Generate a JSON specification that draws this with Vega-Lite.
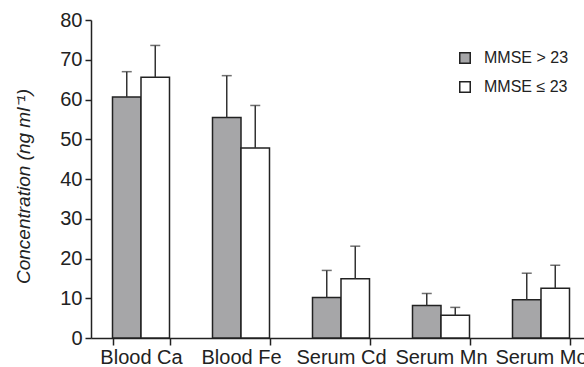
{
  "$schema": "https://vega.github.io/schema/vega-lite/v6.json",
  "width": 500,
  "height": 318,
  "autosize": {"type": "none"},
  "padding": {"left": 91, "top": 20, "right": 0, "bottom": 29},
  "config": {"view": {"stroke": null}, "font": "Liberation Sans"},
  "data": {
    "values": [
      {"analyte": "Blood Ca", "group": "MMSE > 23", "mean": 60.6, "upper": 67.0},
      {"analyte": "Blood Ca", "group": "MMSE ≤ 23", "mean": 65.6, "upper": 73.6},
      {"analyte": "Blood Fe", "group": "MMSE > 23", "mean": 55.5, "upper": 66.0},
      {"analyte": "Blood Fe", "group": "MMSE ≤ 23", "mean": 47.8, "upper": 58.5},
      {"analyte": "Serum Cd", "group": "MMSE > 23", "mean": 10.2, "upper": 17.0},
      {"analyte": "Serum Cd", "group": "MMSE ≤ 23", "mean": 14.9, "upper": 23.1},
      {"analyte": "Serum Mn", "group": "MMSE > 23", "mean": 8.2, "upper": 11.2},
      {"analyte": "Serum Mn", "group": "MMSE ≤ 23", "mean": 5.7, "upper": 7.7},
      {"analyte": "Serum Mo", "group": "MMSE > 23", "mean": 9.6, "upper": 16.3},
      {"analyte": "Serum Mo", "group": "MMSE ≤ 23", "mean": 12.5, "upper": 18.3}
    ]
  },
  "resolve": {"axis": {"y": "independent"}},
  "encoding": {
    "x": {
      "field": "analyte", "type": "nominal",
      "sort": ["Blood Ca", "Blood Fe", "Serum Cd", "Serum Mn", "Serum Mo"],
      "scale": {"paddingInner": 0.43, "paddingOuter": 0.215},
      "axis": {
        "title": null, "labelAngle": 0, "tickBand": "extent",
        "labelFontSize": 20, "labelColor": "#222", "domainColor": "#222",
        "tickColor": "#222", "tickSize": 7, "labelPadding": 2,
        "domainWidth": 1.5, "tickWidth": 1.5, "labelOverlap": false
      }
    },
    "xOffset": {"field": "group", "type": "nominal", "sort": ["MMSE > 23", "MMSE ≤ 23"]}
  },
  "layer": [
    {
      "mark": {"type": "bar", "stroke": "#222", "strokeWidth": 1.5},
      "encoding": {
        "y": {
          "field": "mean", "type": "quantitative",
          "scale": {"domain": [0, 80], "nice": false},
          "axis": {
            "title": "Concentration (ng ml⁻¹)", "titleFontStyle": "italic",
            "titleFontWeight": "normal", "titleFontSize": 19, "titleColor": "#222",
            "titlePadding": 26, "titleY": 166, "values": [0, 10, 20, 30, 40, 50, 60, 70, 80],
            "labelOverlap": false, "tickCount": 9,
            "grid": false, "labelFontSize": 20, "labelColor": "#222",
            "domainColor": "#222", "tickColor": "#222", "tickSize": 6,
            "labelPadding": 3, "domainWidth": 1.5, "tickWidth": 1.5
          }
        },
        "fill": {
          "field": "group", "type": "nominal",
          "scale": {"domain": ["MMSE > 23", "MMSE ≤ 23"], "range": ["#a6a6a8", "#ffffff"]},
          "legend": {
            "title": null, "orient": "none", "legendX": 366, "legendY": 30,
            "symbolType": "square", "symbolSize": 110, "symbolStrokeColor": "#222",
            "symbolStrokeWidth": 1.5, "labelFontSize": 16, "labelColor": "#222",
            "labelOffset": 11, "rowPadding": 11
          }
        }
      }
    },
    {
      "mark": {"type": "rule", "stroke": "#333", "strokeWidth": 1.5},
      "encoding": {
        "y": {"field": "mean", "type": "quantitative", "axis": null},
        "y2": {"field": "upper"}
      }
    },
    {
      "mark": {"type": "tick", "orient": "horizontal", "size": 10, "thickness": 1.5, "color": "#333"},
      "encoding": {
        "y": {"field": "upper", "type": "quantitative", "axis": null}
      }
    }
  ]
}
